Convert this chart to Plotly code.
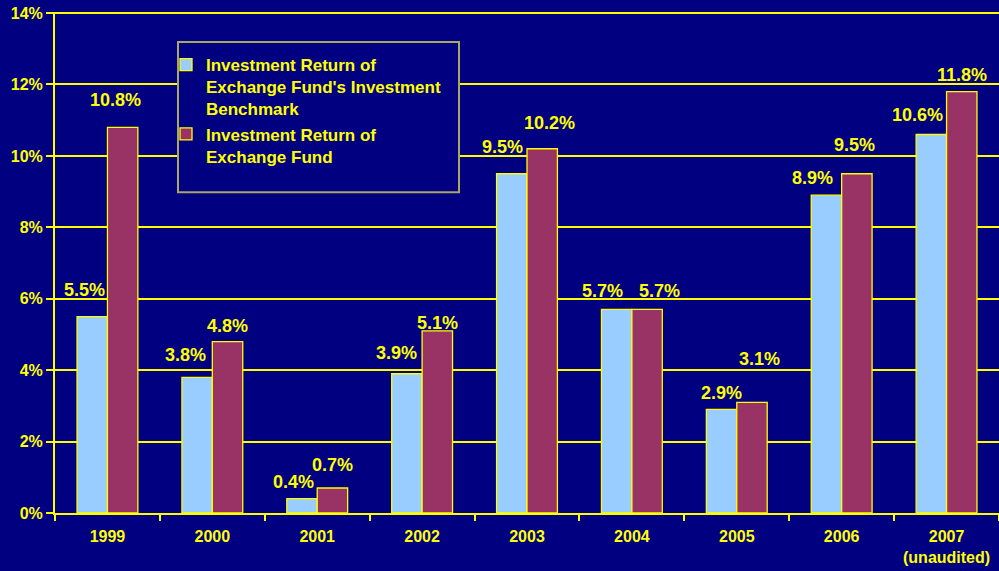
import plotly.graph_objects as go

years = ["1999", "2000", "2001", "2002", "2003", "2004", "2005", "2006", "2007<br>(unaudited)"]
benchmark = [5.5, 3.8, 0.4, 3.9, 9.5, 5.7, 2.9, 8.9, 10.6]
fund = [10.8, 4.8, 0.7, 5.1, 10.2, 5.7, 3.1, 9.5, 11.8]
y_ticks = [0, 2, 4, 6, 8, 10, 12, 14]

# hand placed value labels in the original: pixel offsets from each bar top centre
bench_dx = [-8, -12, -8, -10, -9, -14, 0, -14, -14]
bench_dy = [27, 22, 17, 21, 27, 18, 16, 17, 19]
fund_dx = [-7, 0, 0, 0, 7, 12, 7, -2, 0]
fund_dy = [27, 16, 23, 8, 26, 18, 43, 29, 17]

navy = "#000080"
yellow = "#FFFF00"
family = "Arial, Liberation Sans, sans-serif"
font = dict(family=family, color=yellow, size=16, weight="bold")

fig = go.Figure()
fig.add_trace(go.Bar(
    x=years, y=benchmark,
    name="Investment Return of<br>Exchange Fund's Investment<br>Benchmark",
    marker=dict(color="#99CCFF", line=dict(color=yellow, width=1.3)),
))
fig.add_trace(go.Bar(
    x=years, y=fund,
    name="Investment Return of<br>Exchange Fund",
    marker=dict(color="#993366", line=dict(color=yellow, width=1.3)),
))

half = 15.25  # half bar width in px
for vals, dxs, dys, side in [(benchmark, bench_dx, bench_dy, -1), (fund, fund_dx, fund_dy, 1)]:
    for i, (v, dx, dy) in enumerate(zip(vals, dxs, dys)):
        fig.add_annotation(x=i, y=v, text=f"{v:.1f}%", showarrow=False,
                           xshift=side * half + dx, yshift=dy, yanchor="middle",
                           font=dict(family=family, color=yellow, size=18, weight="bold"))

# legend frame
fig.add_shape(type="rect", xref="paper", yref="paper",
              x0=(178 - 55) / 944, x1=(459 - 55) / 944,
              y0=1 - (193 - 13) / 500, y1=1 - (43 - 13) / 500,
              fillcolor=navy, line=dict(color="#A8A860", width=2), layer="above")

fig.update_layout(
    width=999, height=571,
    paper_bgcolor=navy, plot_bgcolor=navy,
    margin=dict(l=55, r=0, t=12, b=58),
    barmode="group", bargap=0.42, bargroupgap=0,
    font=font,
    showlegend=True,
    legend=dict(x=(166 - 55) / 944, y=1 - (48 - 13) / 500, xanchor="left", yanchor="top",
                bgcolor="rgba(0,0,0,0)", valign="top",
                font=dict(size=17, color=yellow, family=family, weight="bold"),
                itemwidth=30),
)
fig.update_yaxes(range=[0, 14.03], tickvals=y_ticks, ticktext=[f"{v}%" for v in y_ticks],
                 showgrid=True, gridcolor=yellow, gridwidth=2,
                 showline=True, linecolor=yellow, linewidth=2,
                 ticks="outside", ticklen=7, tickcolor=yellow, tickwidth=2,
                 zeroline=False, tickfont=font)
fig.update_xaxes(type="category", showline=True, linecolor=yellow, linewidth=2,
                 ticks="outside", tickson="boundaries", ticklen=6, tickcolor=yellow, tickwidth=2,
                 ticklabelstandoff=8, tickfont=font)

fig.write_html("out.html", config={"displayModeBar": False},
               post_script="document.body.style.margin='0';")
